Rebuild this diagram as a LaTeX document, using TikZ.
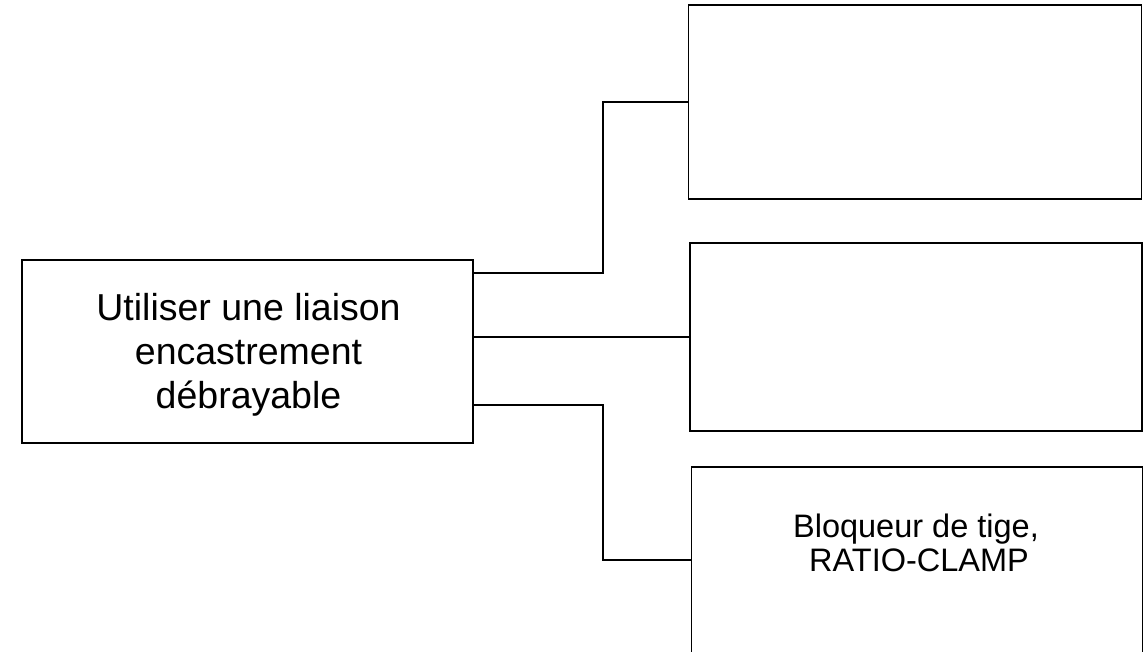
\documentclass[tikz,border=0pt]{standalone}
\usepackage{fontspec}
\setmainfont{Liberation Sans}
\begin{document}
\begin{tikzpicture}[x=1pt,y=-1pt,
  box/.style={draw=black,line width=1.8pt,rectangle,inner sep=0pt},
  link/.style={draw=black,line width=1.5pt},
  bigline/.style={font=\fontsize{37.5}{44}\selectfont,inner sep=0pt,anchor=base},
  smallline/.style={font=\fontsize{32.5}{36}\selectfont,inner sep=0pt,anchor=base}]
\useasboundingbox (0,0) rectangle (1145,652);
\clip (0,0) rectangle (1145,652);
% main function block
\node[box,minimum width=451pt,minimum height=183pt] (left) at (247.5,351.5) {};
\node[bigline] (l1) at (248.5,320) {Utiliser une liaison};
\node[bigline] (l2) at (248.5,364) {encastrement};
\node[bigline] (l3) at (248.5,408) {débrayable};
% solution blocks
\node[box,minimum width=453pt,minimum height=194pt] (top) at (915,102) {};
\node[box,minimum width=452pt,minimum height=188pt] (mid) at (916,337) {};
\node[box,minimum width=451pt,minimum height=220pt] (bot) at (917,577) {};
\node[smallline] (b1) at (916,537) {Bloqueur de tige,};
\node[smallline] (b2) at (919,571) {RATIO-CLAMP};
% branch connectors
\coordinate (j) at (603,0);
\draw[link] (left.east |- 0,273) -| (j |- top.west) -- (top.west);
\draw[link] (left.east |- mid.west) -- (mid.west);
\draw[link] (left.east |- 0,405) -| (j |- 0,560) -- (bot.west |- 0,560);
\end{tikzpicture}
\end{document}
